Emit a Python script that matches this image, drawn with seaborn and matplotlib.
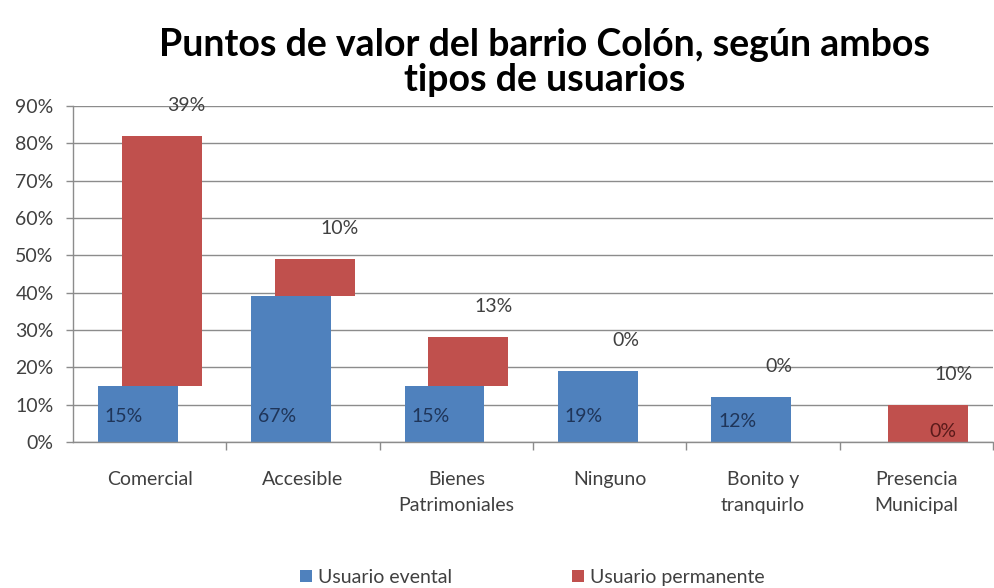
import matplotlib
matplotlib.use("Agg")
import matplotlib.pyplot as plt
from matplotlib.ticker import FixedLocator, PercentFormatter
from matplotlib.patches import Patch
import seaborn as sns
import pandas as pd

# Data
categorias = ["Comercial", "Accesible", "Bienes\nPatrimoniales", "Ninguno",
              "Bonito y\ntranquirlo", "Presencia\nMunicipal"]
usuario_eventual = [15, 39, 15, 19, 12, 0]
usuario_permanente = [67, 10, 13, 0, 0, 10]
etiquetas_eventual = ["15%", "67%", "15%", "19%", "12%", "0%"]
etiquetas_permanente = ["39%", "10%", "13%", "0%", "0%", "10%"]
y_ticks = [0, 10, 20, 30, 40, 50, 60, 70, 80, 90]
titulo = ["Puntos de valor del barrio Colón, según ambos", "tipos de usuarios"]

AZUL = "#4F81BD"
ROJO = "#C0504D"
GRIS = "#8C8C8C"
FS = 14

sns.set_theme(style="white")
plt.rcParams["font.family"] = ["Lato", "DejaVu Sans"]

df = pd.DataFrame({"categoria": categorias,
                   "eventual": usuario_eventual,
                   "permanente": usuario_permanente})

fig = plt.figure(figsize=(9.95, 5.88), dpi=100)
ax = fig.add_axes([0.0734, 0.2483, 0.9246, 0.5714])

ancho = 0.52
desplazamiento = 0.078

sns.barplot(data=df, x="categoria", y="eventual", color=AZUL, width=ancho,
            saturation=1, linewidth=0, ax=ax)
sns.barplot(data=df, x="categoria", y="permanente", color=ROJO, width=ancho,
            saturation=1, linewidth=0, bottom=df["eventual"].values, ax=ax)

barras_ev = list(ax.containers[0])
barras_pe = list(ax.containers[1])
for p in barras_ev:
    p.set_x(p.get_x() - desplazamiento)
for p in barras_pe:
    p.set_x(p.get_x() + desplazamiento)

# Axes styling
ax.set_ylim(0, 90)
ax.set_xlim(-0.5, len(categorias) - 0.5)
ax.yaxis.set_major_locator(FixedLocator(y_ticks))
ax.yaxis.set_major_formatter(PercentFormatter(decimals=0))
ax.grid(axis="y", color=GRIS, linewidth=1.0)
ax.set_axisbelow(True)
for s in ["top", "right"]:
    ax.spines[s].set_visible(False)
for s in ["left", "bottom"]:
    ax.spines[s].set_color(GRIS)
    ax.spines[s].set_linewidth(1.0)

ax.set_xlabel("")
ax.set_ylabel("")
ax.tick_params(axis="y", which="major", left=True, length=5, width=1, color=GRIS,
               pad=9, labelsize=FS, labelcolor="#404040")
ax.tick_params(axis="x", which="major", bottom=False, length=0, pad=21,
               labelsize=FS, labelcolor="#404040")
ax.set_xticks(range(len(categorias)))
ax.set_xticklabels(categorias, linespacing=1.6)
ax.set_xticks([i + 0.5 for i in range(len(categorias))], minor=True)
ax.tick_params(axis="x", which="minor", bottom=True, length=6, width=1, color=GRIS)

# Value labels
for p, txt in zip(barras_ev, etiquetas_eventual):
    h = p.get_height()
    y = min(6.8, max(2.7, h * 0.45))
    if h > 0:
        ax.annotate(txt, (p.get_x(), y), xytext=(5, 0), textcoords="offset points",
                    ha="left", va="center", fontsize=FS, color="#1F3559")
    else:
        ax.annotate(txt, (p.get_x() + p.get_width(), y), xytext=(-1, 0),
                    textcoords="offset points", ha="center", va="center",
                    fontsize=FS, color="#5A1A1A")

for p, txt in zip(barras_pe, etiquetas_permanente):
    top = p.get_y() + p.get_height()
    cx = p.get_x() + p.get_width() / 2
    dx = 18 if p.get_height() > 0 else 3
    ax.annotate(txt, (cx, top), xytext=(dx, 22), textcoords="offset points",
                ha="center", va="center", fontsize=FS, color="#404040")

# Two-line title, one text per line
fig.text(0.547, 1 - 45 / 588, titulo[0], ha="center", va="center",
         fontsize=27, fontweight="bold", color="black")
fig.text(0.547, 1 - 80 / 588, titulo[1], ha="center", va="center",
         fontsize=27, fontweight="bold", color="black")

handles = [Patch(facecolor=AZUL, edgecolor="none"),
           Patch(facecolor=ROJO, edgecolor="none")]
fig.legend(handles, ["Usuario evental", "Usuario permanente"], loc="center",
           bbox_to_anchor=(0.535, 0.018), ncol=2, frameon=False, fontsize=FS,
           handlelength=0.6, handleheight=0.6, handletextpad=0.3, columnspacing=6.2,
           labelcolor="#404040")

fig.savefig("out.png", dpi=100)
